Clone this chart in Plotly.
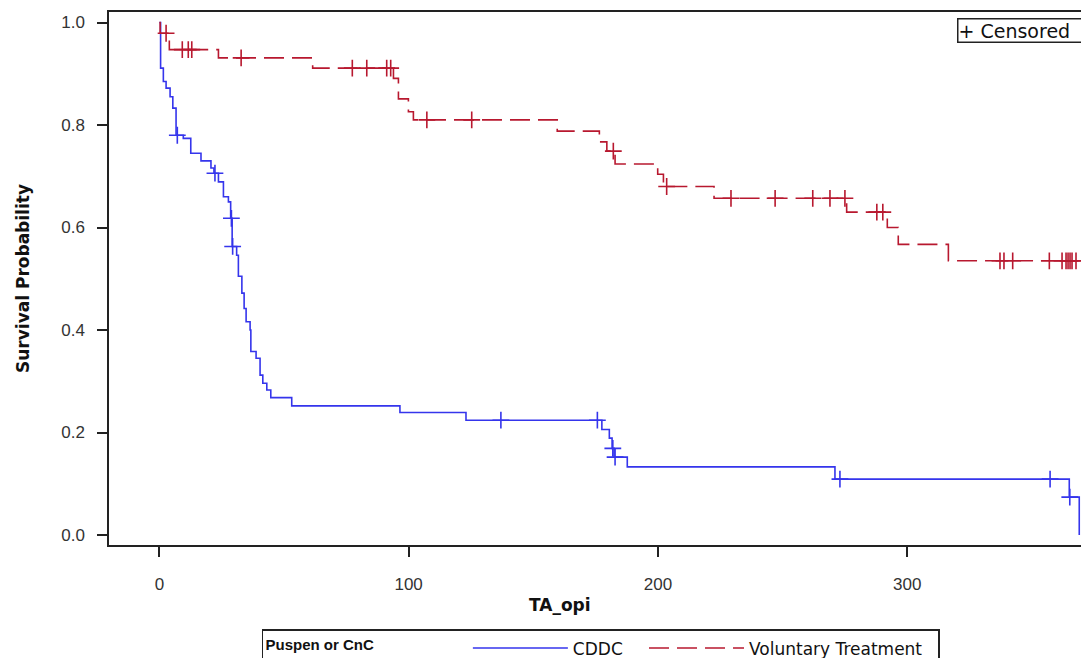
import numpy as np
import plotly.graph_objects as go

# ---- data (Kaplan-Meier estimates) ----
group_names = ["CDDC", "Voluntary Treatment"]
legend_title = "Puspen or CnC"
x_title = "TA_opi"
y_title = "Survival Probability"

cddc_times = [0.5, 1.6, 2.7, 4.3, 5.4, 6.7, 9.6, 12.6, 16.7, 20.7, 21.9, 23.7, 25.7, 27.7,
              28.6, 29.2, 31.0, 31.7, 33.1, 34.0, 34.8, 36.4, 36.7, 38.8, 40.4, 41.5, 43.1,
              44.7, 53.1, 96.5, 123.0, 177.5, 180.5, 181.6, 182.4, 187.7, 271.0, 365.0, 369.0]
cddc_surv = [0.911, 0.885, 0.872, 0.855, 0.833, 0.780, 0.774, 0.745, 0.730, 0.716, 0.706,
             0.689, 0.660, 0.650, 0.618, 0.563, 0.546, 0.505, 0.472, 0.442, 0.416, 0.400,
             0.358, 0.345, 0.312, 0.296, 0.283, 0.268, 0.252, 0.239, 0.224, 0.206, 0.189,
             0.169, 0.152, 0.133, 0.109, 0.074, 0.0]
cddc_censor = [7.2, 22.3, 28.9, 29.4, 137.0, 175.7, 181.9, 182.8, 273.0, 357.3, 365.2]
cddc_end = 369.0

vt_times = [0.3, 4.0, 23.7, 61.5, 93.9, 95.9, 99.9, 101.9, 159.6, 176.5, 179.5, 182.8,
            199.9, 202.2, 222.5, 275.7, 292.0, 296.4, 316.5]
vt_surv = [0.979, 0.947, 0.931, 0.911, 0.891, 0.851, 0.826, 0.810, 0.788, 0.767, 0.749,
           0.724, 0.704, 0.680, 0.657, 0.630, 0.600, 0.567, 0.535]
vt_censor = [2.7, 9.2, 11.6, 13.0, 32.8, 77.4, 83.2, 91.2, 92.8, 107.3, 125.3, 182.1,
             203.5, 229.3, 247.0, 262.1, 269.0, 275.0, 287.8, 290.2, 337.2, 338.8, 342.3,
             357.0, 362.1, 363.7, 364.5, 365.3, 366.1, 367.7]
vt_end = 375.0

x_ticks = [0, 100, 200, 300]
y_ticks = [0.0, 0.2, 0.4, 0.6, 0.8, 1.0]

BLUE = "#3535EC"
RED = "#B8182F"
FONT = "Liberation Sans, Arial, sans-serif"
WIDE = "DejaVu Sans, Verdana, sans-serif"
NB = "\u00a0"


def step_xy(times, surv, end):
    x = [0.0] + list(times)
    y = [1.0] + list(surv)
    if end > x[-1]:
        x.append(end)
        y.append(y[-1])
    return x, y


def surv_at(times, surv, t):
    idx = np.searchsorted(np.array(times), np.array(t), side="right") - 1
    s = np.array([1.0] + list(surv))
    return s[idx + 1]


fig = go.Figure()

groups = [
    (group_names[0], cddc_times, cddc_surv, cddc_censor, cddc_end, BLUE, "solid", NB * 3),
    (group_names[1], vt_times, vt_surv, vt_censor, vt_end, RED, "20px,8px", NB * 2),
]

for name, times, surv, cens, end, col, dash, pad in groups:
    x, y = step_xy(times, surv, end)
    fig.add_trace(go.Scatter(
        x=x, y=y, mode="lines", name=name + pad, line_shape="hv",
        line=dict(color=col, width=1.6, dash=dash),
        legendgroup=name, showlegend=True,
    ))
    fig.add_trace(go.Scatter(
        x=cens, y=surv_at(times, surv, cens), mode="markers", name=name + " censored",
        marker=dict(symbol="cross-thin", size=12, line=dict(color=col, width=1.6)),
        legendgroup=name, showlegend=False,
    ))

axis_common = dict(
    showline=True, linecolor="#222", linewidth=1.5,
    ticks="outside", ticklen=10, tickwidth=1.5, tickcolor="#222",
    showgrid=False, zeroline=False,
    tickfont=dict(family=FONT, size=17, color="#333"),
)

fig.update_layout(
    width=1081, height=680,
    margin=dict(l=109, r=0, t=12, b=135),
    paper_bgcolor="white", plot_bgcolor="white",
    font=dict(family=FONT, color="#111"),
    xaxis=dict(range=[-20.2, 369.7], tickvals=x_ticks, mirror=True,
               ticklabelstandoff=13,
               **axis_common),
    yaxis=dict(range=[-0.0195, 1.0205], tickvals=y_ticks, tickformat=".1f", mirror=False,
               title=dict(text="<b>" + y_title + "</b>",
                          font=dict(family=WIDE, size=17, color="#111"), standoff=27),
               ticklabelstandoff=9,
               **axis_common),
    legend=dict(
        orientation="h", x=0.1574, xanchor="left", y=-0.1576, yanchor="top",
        bordercolor="#222", borderwidth=1.5, bgcolor="white",
        font=dict(family=WIDE, size=17, color="#111"),
        title=dict(text="<b>" + legend_title + "</b>" + NB * 21,
                   font=dict(family=FONT, size=15, color="#111")),
        itemwidth=95, tracegroupgap=0, valign="middle",
    ),
    annotations=[
        dict(xref="paper", yref="paper", x=0.8724, y=0.9887, xanchor="left", yanchor="top",
             text="+ Censored" + NB * 2, showarrow=False, align="left",
             font=dict(family=WIDE, size=19, color="#111"),
             bordercolor="#222", borderwidth=1.5, borderpad=0, bgcolor="white"),
        dict(xref="paper", yref="paper", x=0.464, y=-0.1126, xanchor="center",
             yanchor="middle", text="<b>" + x_title + "</b>", showarrow=False,
             font=dict(family=WIDE, size=17, color="#111")),
    ],
)

fig.write_html(
    "out.html",
    config={"displayModeBar": False},
    post_script="document.body.style.margin='0px';document.body.style.overflow='hidden';",
)
